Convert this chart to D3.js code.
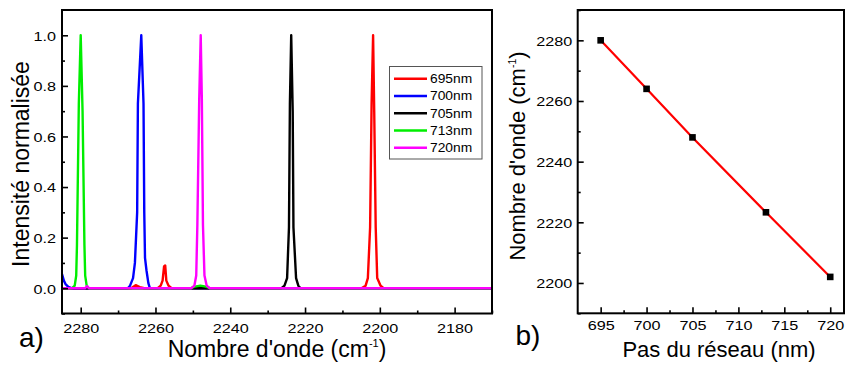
<!DOCTYPE html>
<html><head><meta charset="utf-8">
<script src="https://cdn.jsdelivr.net/npm/d3@7/dist/d3.min.js"></script>
<style>body{margin:0;background:#fff}</style>
</head><body><svg id="c" width="846" height="370"></svg>
<script>
// ---------- DATA ----------
const legendLabels = ["695nm", "700nm", "705nm", "713nm", "720nm"];
// spectra: [wavenumber (cm-1), normalized intensity]
const spec695 = [[2285,0],[2266.5,0],[2265.3,0.012],[2264.2,0.004],[2263,0],
  [2259.4,0],[2258.6,0.01],[2258.1,0.03],[2257.7,0.086],[2257.4,0.09],[2257.1,0.03],[2256.5,0.01],[2255.7,0],
  [2204.9,0],[2203.8,0.01],[2203.2,0.04],[2202.6,0.24],[2202.2,0.73],[2201.8,1.0],[2201.5,0.7],[2201.1,0.24],[2200.7,0.04],[2199.8,0.01],[2199,0],[2170,0]];
const spec700 = [[2285,0.056],[2284.5,0.03],[2284,0.015],[2283.3,0.005],[2282.5,0],
  [2267.4,0],[2266.8,0.01],[2266.0,0.04],[2265.5,0.1],[2264.9,0.3],[2264.7,0.73],[2263.8,1.0],[2263.2,0.73],[2263.0,0.3],[2262.8,0.12],[2262.4,0.07],[2261.9,0.02],[2261.5,0],[2170,0]];
const spec705 = [[2285,0],[2226.3,0],[2225.5,0.01],[2224.8,0.04],[2224.3,0.24],[2224.05,0.73],[2223.7,1.0],[2223.3,0.7],[2223.1,0.24],[2222.4,0.04],[2221.8,0.01],[2221.2,0],[2170,0]];
const spec713 = [[2285,0],[2282.3,0],[2281.6,0.01],[2281.2,0.05],[2281.0,0.17],[2280.5,0.73],[2280.0,1.0],[2279.5,0.7],[2279.0,0.17],[2278.8,0.05],[2278.4,0.01],[2277.8,0],
  [2250.5,0],[2249.5,0.006],[2248,0.01],[2246.5,0.006],[2245.5,0],[2170,0]];
const spec720 = [[2285,0],[2278.8,0],[2278.3,0.008],[2277.8,0],[2250.4,0],[2249.6,0.01],[2249.1,0.05],[2248.8,0.25],[2248.3,0.75],[2247.9,1.0],[2247.6,0.75],[2247.3,0.25],[2246.9,0.05],[2246.3,0.01],[2245.5,0],[2170,0]];

const xTicksA = [2280, 2260, 2240, 2220, 2200, 2180];
const xMinorA = [2270, 2250, 2230, 2210, 2190, 2170];
const yTicksA = [0.0, 0.2, 0.4, 0.6, 0.8, 1.0];
const yMinorA = [-0.1, 0.1, 0.3, 0.5, 0.7, 0.9];

// panel b
const pitch = [695, 700, 705, 713, 720];
const peakWavenumber = [2280, 2264, 2248, 2223.3, 2202];
const xTicksB = [695, 700, 705, 710, 715, 720];
const xMinorB = [697.5, 702.5, 707.5, 712.5, 717.5];
const yTicksB = [2200, 2220, 2240, 2260, 2280];
const yMinorB = [2190, 2210, 2230, 2250, 2270, 2290];

// ---------- DRAW ----------
const FONT = "'Liberation Sans', Arial, Helvetica, sans-serif";
const svg = d3.select("#c").style("font-family", FONT);
const colors = ["#ff0000", "#0000ff", "#000000", "#00ee00", "#ff00ff"];
const specs = [spec695, spec700, spec705, spec713, spec720];

function axes(g, xs, ys, box, xMaj, xMin, yMaj, yMin, xfmt, yfmt, xBase, yGap) {
  const TS = 13.5, SX = 1.2;
  const bx = g.append("g").attr("transform", `translate(0,${box.y1})`)
    .call(d3.axisBottom(xs).tickValues(xMaj).tickSizeInner(-6).tickSizeOuter(0).tickFormat(xfmt));
  bx.selectAll("text").attr("y", xBase).attr("dy", 0).attr("transform", `scale(${SX},1)`)
    .style("font-size", TS + "px").style("font-family", FONT).attr("fill", "#000");
  const bxm = g.append("g").attr("transform", `translate(0,${box.y1})`)
    .call(d3.axisBottom(xs).tickValues(xMin).tickSizeInner(-3).tickSizeOuter(0).tickFormat(""));
  const ly = g.append("g").attr("transform", `translate(${box.x0},0)`)
    .call(d3.axisLeft(ys).tickValues(yMaj).tickSizeInner(-6).tickSizeOuter(0).tickFormat(yfmt));
  ly.selectAll("text").attr("x", -yGap / SX).attr("dy", "0.36em").attr("transform", `scale(${SX},1)`)
    .style("font-size", TS + "px").style("font-family", FONT).attr("fill", "#000");
  const lym = g.append("g").attr("transform", `translate(${box.x0},0)`)
    .call(d3.axisLeft(ys).tickValues(yMin).tickSizeInner(-3).tickSizeOuter(0).tickFormat(""));
  [bx, bxm, ly, lym].forEach(a => {
    a.select(".domain").remove();
    a.selectAll("line").attr("stroke", "#000").attr("stroke-width", 1.6);
  });
  g.append("rect").attr("x", box.x0).attr("y", box.y0)
    .attr("width", box.x1 - box.x0).attr("height", box.y1 - box.y0)
    .attr("fill", "none").attr("stroke", "#000").attr("stroke-width", 2);
}

function cmTitle(g, x, y, rot, size) {
  const t = g.append("text").attr("transform", `translate(${x},${y}) rotate(${rot})`)
    .attr("text-anchor", "middle").style("font-size", size + "px").attr("fill", "#000");
  t.append("tspan").text("Nombre d'onde (cm");
  t.append("tspan").text("-1").style("font-size", (size * 0.48) + "px").attr("dy", -size * 0.43);
  t.append("tspan").text(")").attr("dy", size * 0.43);
}

// ----- panel a -----
const A = {x0: 62, x1: 492, y0: 10, y1: 313.5};
const xA = d3.scaleLinear().domain([2285, 2170]).range([A.x0, A.x1]);
const yA = d3.scaleLinear().domain([-0.1, 1.1]).range([A.y1, A.y0]);
const gA = svg.append("g");
svg.append("defs").append("clipPath").attr("id", "clipA").append("rect")
  .attr("x", A.x0).attr("y", A.y0).attr("width", A.x1 - A.x0).attr("height", A.y1 - A.y0);
const lineA = d3.line().x(d => xA(d[0])).y(d => yA(d[1]));
const plotA = gA.append("g").attr("clip-path", "url(#clipA)");
specs.forEach((s, i) => {
  plotA.append("path").datum(s).attr("d", lineA).attr("fill", "none")
    .attr("stroke", colors[i]).attr("stroke-width", 2.4).attr("stroke-linejoin", "round");
});
axes(gA, xA, yA, A, xTicksA, xMinorA, yTicksA, yMinorA, d3.format("d"), d3.format(".1f"), 19.8, 6);

// legend
const leg = gA.append("g");
leg.append("rect").attr("x", 389.5).attr("y", 66.5).attr("width", 92.5).attr("height", 92.5)
  .attr("fill", "#fff").attr("stroke", "#555").attr("stroke-width", 1);
legendLabels.forEach((lab, i) => {
  const yy = 78.7 + i * 17.25;
  leg.append("line").attr("x1", 394).attr("x2", 427).attr("y1", yy).attr("y2", yy)
    .attr("stroke", colors[i]).attr("stroke-width", 2.4);
  leg.append("text").attr("transform", `translate(430,${yy + 4.3}) scale(1.15,1)`)
    .style("font-size", "12px").attr("fill", "#000").text(lab);
});

// titles
cmTitle(gA, 277, 357, 0, 23);
gA.append("text").attr("transform", "translate(28.5,164) rotate(-90)").attr("text-anchor", "middle")
  .style("font-size", "23px").attr("fill", "#000").text("Intensité normalisée");
gA.append("text").attr("x", 19).attr("y", 347).style("font-size", "28px").attr("fill", "#000").text("a)");

// ----- panel b -----
const B = {x0: 577.7, x1: 844, y0: 10, y1: 313.3};
const xB = d3.scaleLinear().domain([692.5, 721.5]).range([B.x0, B.x1]);
const yB = d3.scaleLinear().domain([2190, 2290]).range([B.y1, B.y0]);
const gB = svg.append("g");
const ptsB = pitch.map((p, i) => [p, peakWavenumber[i]]);
gB.append("path").datum(ptsB)
  .attr("d", d3.line().x(d => xB(d[0])).y(d => yB(d[1])))
  .attr("fill", "none").attr("stroke", "#ff0000").attr("stroke-width", 2.2);
gB.selectAll("rect.pt").data(ptsB).enter().append("rect").attr("class", "pt")
  .attr("x", d => xB(d[0]) - 3.3).attr("y", d => yB(d[1]) - 3.3)
  .attr("width", 6.6).attr("height", 6.6).attr("fill", "#000");
axes(gB, xB, yB, B, xTicksB, xMinorB, yTicksB, yMinorB, d3.format("d"), d3.format("d"), 16.7, 5.4);
cmTitle(gB, 525, 156, -90, 22);
gB.append("text").attr("x", 719).attr("y", 357).attr("text-anchor", "middle")
  .style("font-size", "22px").attr("fill", "#000").text("Pas du réseau (nm)");
gB.append("text").attr("x", 515.5).attr("y", 345).style("font-size", "28px").attr("fill", "#000").text("b)");
</script></body></html>
